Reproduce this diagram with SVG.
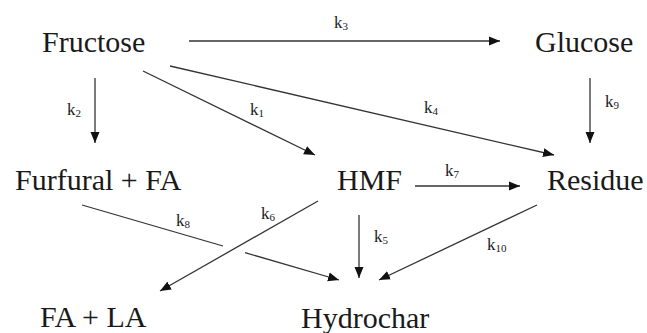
<svg xmlns="http://www.w3.org/2000/svg" width="647" height="333" viewBox="0 0 647 333">
<style>
text{font-family:"Liberation Serif","Times New Roman",serif;fill:#1a1a1a}
.n{font-size:30px}
.k{font-size:17px}
.s{font-size:11px}
.c line{stroke:#333;stroke-width:1.3;fill:none}
</style>
<defs>
<marker id="a" markerUnits="userSpaceOnUse" markerWidth="12" markerHeight="10" refX="11" refY="5" orient="auto" viewBox="0 0 12 10">
<path d="M0,0.5 L11,5 L0,9.5 z" fill="#111"/>
</marker>
</defs>
<g id="fructose"><text class="n" x="42" y="52">Fructose</text></g>
<g id="glucose"><text class="n" x="535" y="52">Glucose</text></g>
<g id="furfural"><text class="n" x="15" y="190">Furfural + FA</text></g>
<g id="hmf"><text class="n" x="337" y="190">HMF</text></g>
<g id="residue"><text class="n" x="547" y="190">Residue</text></g>
<g id="fala"><text class="n" x="40" y="327">FA + LA</text></g>
<g id="hydrochar"><text class="n" x="301" y="328">Hydrochar</text></g>
<g class="c" id="connectors">
<line x1="189" y1="41" x2="500" y2="41" marker-end="url(#a)"/>
<line x1="95" y1="78" x2="95" y2="143" marker-end="url(#a)"/>
<line x1="143" y1="71" x2="315" y2="155" marker-end="url(#a)"/>
<line x1="170" y1="66" x2="554" y2="155" marker-end="url(#a)"/>
<line x1="590" y1="78" x2="590" y2="143" marker-end="url(#a)"/>
<line x1="415" y1="186" x2="520" y2="186" marker-end="url(#a)"/>
<line x1="82" y1="205" x2="223" y2="246"/>
<line x1="245" y1="252.6" x2="339" y2="280" marker-end="url(#a)"/>
<line x1="318" y1="201" x2="160" y2="291" marker-end="url(#a)"/>
<line x1="359" y1="215" x2="359" y2="278" marker-end="url(#a)"/>
<line x1="537" y1="205" x2="379" y2="280" marker-end="url(#a)"/>
</g>
<g id="labels">
<text class="k" x="334" y="28">k<tspan class="s" dy="2">3</tspan></text>
<text class="k" x="67" y="115">k<tspan class="s" dy="2">2</tspan></text>
<text class="k" x="250" y="115">k<tspan class="s" dy="2">1</tspan></text>
<text class="k" x="424" y="113">k<tspan class="s" dy="2">4</tspan></text>
<text class="k" x="605" y="107">k<tspan class="s" dy="2">9</tspan></text>
<text class="k" x="445" y="176">k<tspan class="s" dy="2">7</tspan></text>
<text class="k" x="176" y="226">k<tspan class="s" dy="2">8</tspan></text>
<text class="k" x="261" y="219">k<tspan class="s" dy="2">6</tspan></text>
<text class="k" x="374" y="242">k<tspan class="s" dy="2">5</tspan></text>
<text class="k" x="487" y="250">k<tspan class="s" dy="2">10</tspan></text>
</g>
</svg>
